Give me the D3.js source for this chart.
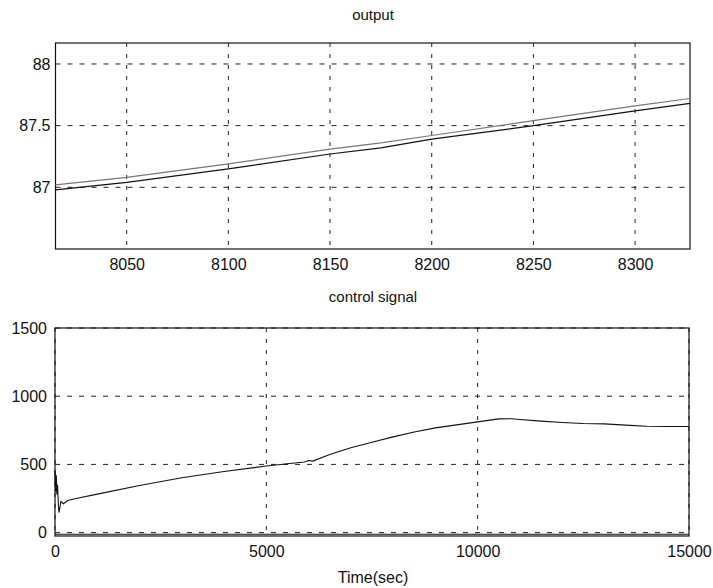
<!DOCTYPE html>
<html>
<head>
<meta charset="utf-8">
<script src="https://cdn.jsdelivr.net/npm/d3@7"></script>
<style>
  html, body { margin: 0; padding: 0; background: #fff; }
  svg { display: block; }
  text { font-family: "Liberation Sans", Arial, sans-serif; fill: #111; }
</style>
</head>
<body>
<svg id="chart" width="713" height="588"></svg>
<script>
// ---- Data: top panel "output" ----
const outTime  = [8015, 8050, 8100, 8150, 8175, 8200, 8250, 8300, 8327];
const outUpper = [87.02, 87.08, 87.19, 87.31, 87.36, 87.42, 87.54, 87.66, 87.72];
const outLower = [86.98, 87.04, 87.15, 87.27, 87.32, 87.39, 87.50, 87.62, 87.68];
const outXTicks = [8050, 8100, 8150, 8200, 8250, 8300];
const outYTicks = [87, 87.5, 88];

// ---- Data: bottom panel "control signal" ----
const ctrlTime = [0, 15, 30, 45, 60, 80, 95, 140, 200, 300, 500, 1000, 2000, 3000, 4000, 5000, 5500, 5900, 6000, 6100, 6500, 7000, 7500, 8000, 8500, 9000, 9500, 10000, 10500, 10800, 11000, 11500, 12000, 12500, 13000, 13500, 14000, 14500, 15000];
const ctrlValue = [460, 300, 420, 280, 350, 200, 147, 228, 212, 235, 250, 282, 345, 402, 448, 488, 505, 518, 528, 524, 573, 622, 663, 702, 737, 768, 790, 812, 834, 835, 829, 817, 807, 800, 797, 788, 780, 778, 778];
const baseTime = [0, 15000];
const baseValue = [-12, -12];
const ctrlXTicks = [0, 5000, 10000, 15000];
const ctrlYTicks = [0, 500, 1000, 1500];

const svg = d3.select("#chart");
svg.append("rect").attr("width", 713).attr("height", 588).attr("fill", "#fff");

function panel(opts) {
  const { xDomain, yDomain, x0, x1, y0, y1, xTicks, yTicks, yPad, xPad, xFmt, yFmt } = opts;
  const x = d3.scaleLinear().domain(xDomain).range([x0, x1]);
  const y = d3.scaleLinear().domain(yDomain).range([y1, y0]);
  const g = svg.append("g");

  // grid
  g.append("g").selectAll("line").data(xTicks).join("line")
    .attr("x1", d => x(d)).attr("x2", d => x(d))
    .attr("y1", y0).attr("y2", y1)
    .attr("stroke", "#222").attr("stroke-width", 1).attr("stroke-dasharray", "4,7");
  g.append("g").selectAll("line").data(yTicks).join("line")
    .attr("x1", x0).attr("x2", x1)
    .attr("y1", d => y(d)).attr("y2", d => y(d))
    .attr("stroke", "#222").attr("stroke-width", 1).attr("stroke-dasharray", "5,7");

  // axes
  const ax = g.append("g").attr("transform", `translate(0,${y1})`)
    .call(d3.axisBottom(x).tickValues(xTicks).tickSize(0).tickPadding(xPad).tickFormat(xFmt));
  const ay = g.append("g").attr("transform", `translate(${x0},0)`)
    .call(d3.axisLeft(y).tickValues(yTicks).tickSize(0).tickPadding(yPad).tickFormat(yFmt));
  [ax, ay].forEach(a => {
    a.select(".domain").remove();
    a.selectAll("text").attr("font-size", 16).attr("font-family", "Liberation Sans, Arial, sans-serif").attr("fill", "#000");
  });

  // box
  g.append("rect").attr("x", x0).attr("y", y0).attr("width", x1 - x0).attr("height", y1 - y0)
    .attr("fill", "none").attr("stroke", "#111").attr("stroke-width", 1.2);
  return { x, y, g };
}

// Top panel
const topPanel = panel({
  xDomain: [8015, 8327], yDomain: [86.5, 88.17],
  x0: 55.5, x1: 690, y0: 43, y1: 249,
  xTicks: outXTicks, yTicks: outYTicks, xPad: 10, yPad: 5,
  xFmt: d3.format("d"), yFmt: d => String(d)
});
const lineTop = (vals) => d3.line().x((d, i) => topPanel.x(outTime[i])).y(d => topPanel.y(d))(vals);
topPanel.g.append("path").attr("d", lineTop(outUpper)).attr("fill", "none").attr("stroke", "#777").attr("stroke-width", 1.2);
topPanel.g.append("path").attr("d", lineTop(outLower)).attr("fill", "none").attr("stroke", "#111").attr("stroke-width", 1.2);

svg.append("text").attr("x", 373).attr("y", 20).attr("text-anchor", "middle").attr("font-size", 15).attr("fill", "#000").text("output");

// Bottom panel
const botPanel = panel({
  xDomain: [0, 15000], yDomain: [-25, 1500],
  x0: 55, x1: 689, y0: 328, y1: 536,
  xTicks: ctrlXTicks, yTicks: ctrlYTicks, xPad: 10, yPad: 8,
  xFmt: d3.format("d"), yFmt: d3.format("d")
});
botPanel.g.append("path")
  .attr("d", d3.line().x((d, i) => botPanel.x(ctrlTime[i])).y(d => botPanel.y(d))(ctrlValue))
  .attr("fill", "none").attr("stroke", "#111").attr("stroke-width", 1.1);
botPanel.g.append("path")
  .attr("d", d3.line().x((d, i) => botPanel.x(baseTime[i])).y(d => botPanel.y(d))(baseValue))
  .attr("fill", "none").attr("stroke", "#111").attr("stroke-width", 1.2);

svg.append("text").attr("x", 373).attr("y", 302).attr("text-anchor", "middle").attr("font-size", 15).attr("fill", "#000").text("control signal");
svg.append("text").attr("x", 373).attr("y", 583).attr("text-anchor", "middle").attr("font-size", 16).attr("fill", "#000").text("Time(sec)");
</script>
</body>
</html>
